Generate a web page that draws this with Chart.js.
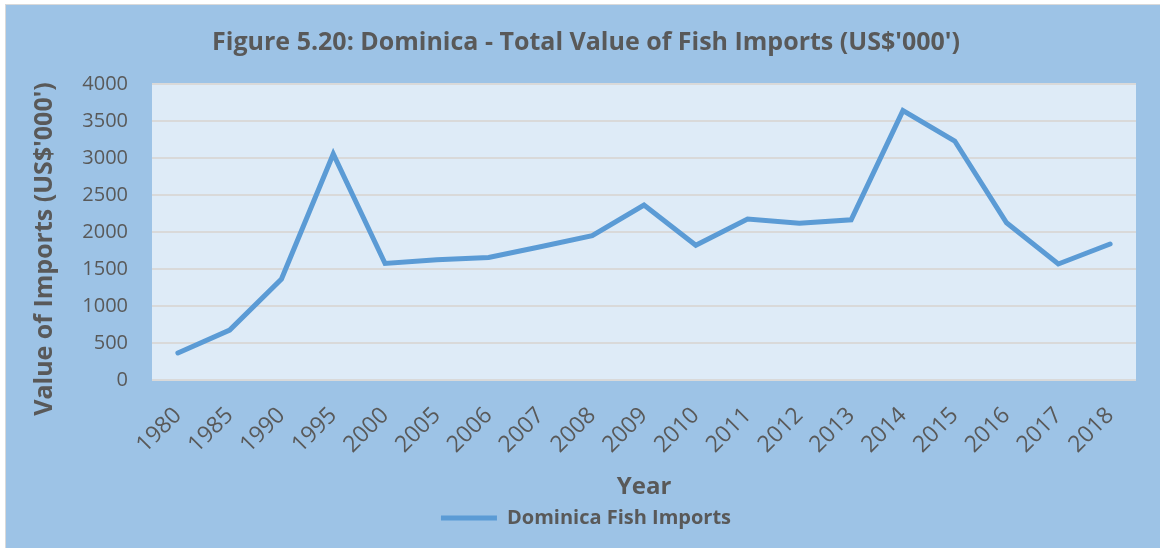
<!DOCTYPE html>
<html>
<head>
<meta charset="utf-8">
<script src="https://cdn.jsdelivr.net/npm/chart.js@4"></script>
<style>
  html, body { margin: 0; padding: 0; background: #fff; }
  #wrap { width: 1160px; height: 548px; }
</style>
</head>
<body>
<div id="wrap"><canvas id="fishChart"></canvas></div>
<script>
// Data
const years = ['1980', '1985', '1990', '1995', '2000', '2005', '2006', '2007', '2008', '2009',
               '2010', '2011', '2012', '2013', '2014', '2015', '2016', '2017', '2018'];
const fishImports = [365, 675, 1365, 3055, 1575, 1625, 1655, 1800, 1950, 2365,
                     1820, 2175, 2120, 2165, 3640, 3230, 2125, 1568, 1838];
const yTicks = [0, 500, 1000, 1500, 2000, 2500, 3000, 3500, 4000];
const yTitle = "Value of Imports (US$'000')";

const textColor = '#595959';
const lineColor = '#5B9BD5';
const font = '"Open Sans", sans-serif';

// Outer panel + plot area fills
const backdrop = {
    id: 'backdrop',
    beforeDraw(chart) {
        const { ctx, chartArea: a } = chart;
        ctx.save();
        ctx.fillStyle = '#ffffff';
        ctx.fillRect(0, 0, chart.width, chart.height);
        ctx.fillStyle = '#9DC3E6';
        ctx.fillRect(6, 5, chart.width - 6, chart.height - 5);
        ctx.strokeStyle = '#D9D9D9';
        ctx.lineWidth = 1;
        ctx.strokeRect(5.5, 4.5, chart.width, chart.height);
        ctx.fillStyle = '#DEEBF7';
        ctx.fillRect(a.left, a.top, a.right - a.left, a.bottom - a.top);
        ctx.restore();
    }
};

// Y axis title, a bit below the axis middle like the original
const yAxisTitle = {
    id: 'yAxisTitle',
    afterDraw(chart) {
        const { ctx, chartArea: a } = chart;
        ctx.save();
        ctx.translate(45, (a.top + a.bottom) / 2 + 17);
        ctx.rotate(-Math.PI / 2);
        ctx.fillStyle = textColor;
        ctx.font = `bold 25px ${font}`;
        ctx.textAlign = 'center';
        ctx.textBaseline = 'middle';
        ctx.fillText(yTitle, 0, 0);
        ctx.restore();
    }
};

new Chart(document.getElementById('fishChart'), {
    type: 'line',
    data: {
        labels: years,
        datasets: [{
            label: 'Dominica Fish Imports',
            data: fishImports,
            borderColor: lineColor,
            backgroundColor: lineColor,
            borderWidth: 5,
            borderCapStyle: 'round',
            borderJoinStyle: 'miter',
            pointRadius: 0,
            pointStyle: 'line',
            tension: 0
        }]
    },
    options: {
        responsive: true,
        maintainAspectRatio: false,
        animation: false,
        layout: { padding: { left: 36, right: 24, top: 20, bottom: 10 } },
        plugins: {
            title: {
                display: true,
                text: "Figure 5.20: Dominica - Total Value of Fish Imports (US$'000')",
                color: textColor,
                font: { family: font, size: 25, weight: 'bold' },
                padding: { top: 8, bottom: 26 }
            },
            legend: {
                position: 'bottom',
                labels: {
                    color: textColor,
                    font: { family: font, size: 20, weight: 'bold' },
                    usePointStyle: true,
                    pointStyleWidth: 56,
                    padding: 4
                }
            },
            tooltip: { enabled: false }
        },
        scales: {
            x: {
                offset: true,
                afterFit(scale) {
                    scale.height = 124;
                },
                grid: { display: false },
                border: { display: false },
                ticks: {
                    color: textColor,
                    font: { family: font, size: 23 },
                    minRotation: 45,
                    maxRotation: 45,
                    autoSkip: false,
                    padding: 14
                },
                title: {
                    display: true,
                    text: 'Year',
                    color: textColor,
                    font: { family: font, size: 24, weight: 'bold' },
                    padding: { top: 4, bottom: 2 }
                }
            },
            y: {
                min: 0,
                max: 4000,
                afterBuildTicks(scale) {
                    scale.ticks = yTicks.map(v => ({ value: v }));
                },
                afterFit(scale) {
                    scale.width = 116;
                },
                grid: { color: '#D9D9D9', lineWidth: 2, drawTicks: false },
                border: { display: false },
                ticks: {
                    color: textColor,
                    font: { family: font, size: 20 },
                    padding: 24,
                    callback: v => String(v)
                }
            }
        }
    },
    plugins: [backdrop, yAxisTitle]
});
</script>
</body>
</html>
